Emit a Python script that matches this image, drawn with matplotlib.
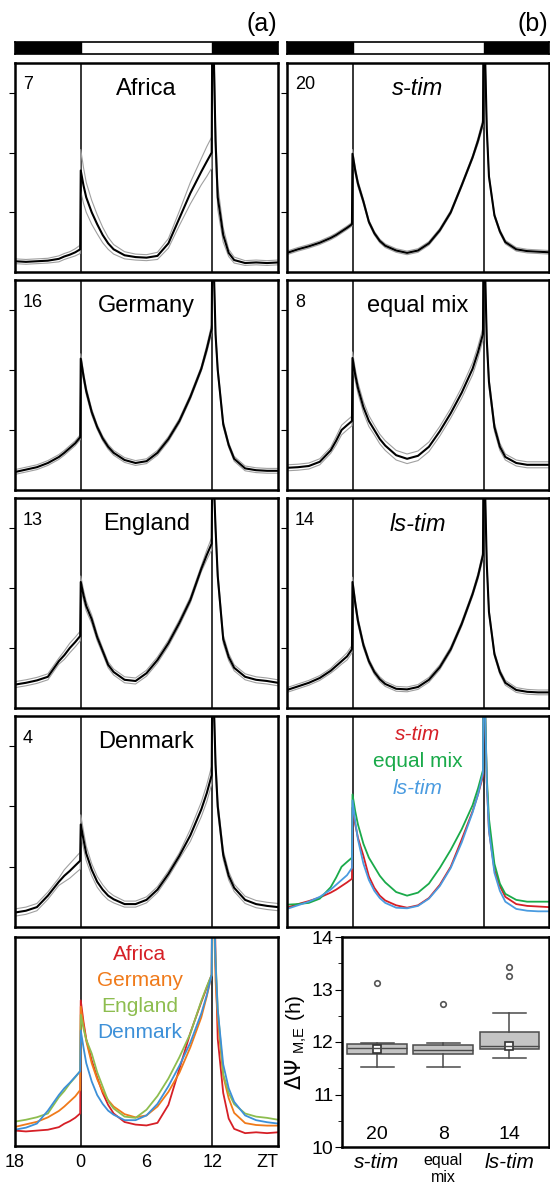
import numpy as np
import matplotlib
matplotlib.use('Agg')
import matplotlib.pyplot as plt

plt.rcParams['font.family'] = ['Liberation Sans', 'DejaVu Sans']

# time grid (h, ZT; -6..0 = ZT18..24)
t = [-6, -5, -4, -3, -2, -1.5, -1, -0.5, -0.05, 0, 0.25, 0.5, 1, 1.5, 2, 2.5, 3,
     4, 5, 6, 7, 8, 9, 10, 11, 11.5, 11.95, 12, 12.1, 12.3, 12.5, 13, 13.5, 14,
     15, 16, 17, 18]

# populations (a)
pop_names = ['Africa', 'Germany', 'England', 'Denmark']
pop_n = [7, 16, 13, 4]
africa = [0.18, 0.17, 0.18, 0.19, 0.22, 0.26, 0.29, 0.33, 0.38,
          1.70, 1.45, 1.25, 1.00, 0.80, 0.62, 0.48, 0.38,
          0.28, 0.25, 0.24, 0.27, 0.48, 0.90, 1.32, 1.68, 1.85, 2.00,
          4.0, 4.0, 2.2, 1.25, 0.62, 0.32, 0.20, 0.15, 0.16, 0.15, 0.16]
africa_sem = [0.04, 0.04, 0.04, 0.04, 0.05, 0.05, 0.05, 0.06, 0.07,
              0.35, 0.30, 0.25, 0.20, 0.16, 0.13, 0.10, 0.08,
              0.06, 0.05, 0.05, 0.06, 0.08, 0.12, 0.18, 0.22, 0.25, 0.26,
              0.3, 0.3, 0.25, 0.2, 0.12, 0.06, 0.05, 0.04, 0.04, 0.04, 0.04]
germany = [0.30, 0.34, 0.38, 0.45, 0.55, 0.62, 0.70, 0.78, 0.88,
           2.19, 1.90, 1.65, 1.30, 1.05, 0.86, 0.72, 0.62,
           0.50, 0.45, 0.48, 0.62, 0.85, 1.15, 1.55, 2.02, 2.35, 2.69,
           4.0, 4.0, 2.6, 2.0, 1.10, 0.75, 0.52, 0.36, 0.33, 0.32, 0.32]
germany_sem = [0.04] * 9 + [0.08, 0.07, 0.06, 0.05, 0.04, 0.04, 0.04, 0.04] + \
              [0.04] * 8 + [0.06, 0.07] + [0.08, 0.08, 0.07, 0.06, 0.05, 0.04, 0.04] + [0.04] * 4
england = [0.39, 0.42, 0.46, 0.52, 0.78, 0.88, 1.00, 1.10, 1.20,
           2.10, 1.88, 1.70, 1.48, 1.18, 0.95, 0.72, 0.60,
           0.47, 0.45, 0.58, 0.80, 1.08, 1.42, 1.80, 2.32, 2.55, 2.74,
           4.0, 4.0, 3.0, 2.2, 1.15, 0.85, 0.67, 0.52, 0.47, 0.45, 0.42]
england_sem = [0.05] * 5 + [0.07, 0.08, 0.08, 0.08] + [0.1, 0.09, 0.08, 0.07, 0.06, 0.05, 0.05, 0.05] + \
              [0.05] * 8 + [0.08, 0.1] + [0.1, 0.1, 0.1, 0.08, 0.07, 0.06, 0.05] + [0.05] * 4
denmark = [0.24, 0.27, 0.33, 0.52, 0.75, 0.85, 0.93, 1.02, 1.10,
           1.70, 1.45, 1.22, 0.95, 0.75, 0.62, 0.52, 0.46,
           0.38, 0.38, 0.45, 0.62, 0.88, 1.18, 1.52, 1.95, 2.22, 2.52,
           4.0, 4.0, 2.7, 2.0, 1.2, 0.85, 0.65, 0.45, 0.38, 0.35, 0.33]
denmark_sem = [0.06] * 5 + [0.1, 0.12, 0.13, 0.14] + [0.16, 0.14, 0.12, 0.1, 0.09, 0.08, 0.07, 0.06] + \
              [0.05] * 6 + [0.1, 0.12, 0.14, 0.15] + [0.15, 0.15, 0.12, 0.1, 0.08, 0.07, 0.06] + [0.06] * 4

# genotypes (b)
geno_names = ['s-tim', 'equal mix', 'ls-tim']
geno_n = [20, 8, 14]
s_tim = [0.32, 0.38, 0.43, 0.49, 0.57, 0.62, 0.68, 0.74, 0.80,
         1.98, 1.70, 1.48, 1.18, 0.84, 0.65, 0.52, 0.44,
         0.36, 0.32, 0.36, 0.48, 0.70, 1.00, 1.45, 1.92, 2.20, 2.50,
         4.0, 4.0, 2.4, 1.6, 0.95, 0.68, 0.50, 0.38, 0.35, 0.34, 0.33]
s_tim_sem = [0.03] * 9 + [0.07, 0.06, 0.05, 0.04, 0.03, 0.03, 0.03, 0.03] + \
            [0.03] * 8 + [0.05, 0.06] + [0.06, 0.06, 0.05, 0.04, 0.03, 0.03, 0.03] + [0.03] * 4
equal_mix = [0.37, 0.38, 0.40, 0.47, 0.66, 0.82, 1.00, 1.08, 1.15,
             2.20, 1.92, 1.70, 1.38, 1.15, 1.00, 0.85, 0.74,
             0.58, 0.52, 0.57, 0.72, 0.98, 1.28, 1.62, 2.02, 2.30, 2.60,
             4.0, 4.0, 2.5, 1.8, 1.05, 0.72, 0.55, 0.45, 0.42, 0.42, 0.42]
equal_mix_sem = [0.05] * 5 + [0.07, 0.08, 0.08, 0.08] + [0.1, 0.1, 0.09, 0.09, 0.09, 0.08, 0.08, 0.08] + \
                [0.08] * 6 + [0.09, 0.1, 0.1, 0.1] + [0.1, 0.1, 0.1, 0.08, 0.07, 0.06, 0.05] + [0.05] * 4
ls_tim = [0.30, 0.36, 0.42, 0.50, 0.62, 0.70, 0.78, 0.86, 0.98,
          2.10, 1.75, 1.45, 1.05, 0.78, 0.60, 0.48, 0.40,
          0.32, 0.31, 0.35, 0.47, 0.68, 0.98, 1.40, 1.90, 2.20, 2.55,
          4.0, 4.0, 2.4, 1.6, 0.90, 0.60, 0.42, 0.30, 0.27, 0.26, 0.26]
ls_tim_sem = [0.04] * 5 + [0.05, 0.05, 0.06, 0.06] + [0.08, 0.07, 0.06, 0.05, 0.04, 0.04, 0.04, 0.04] + \
             [0.04] * 8 + [0.05, 0.06] + [0.06, 0.06, 0.05, 0.05, 0.04, 0.04, 0.04] + [0.04] * 4

pop_means = [africa, germany, england, denmark]
pop_sems = [africa_sem, germany_sem, england_sem, denmark_sem]
pop_colors = ['#d61f26', '#f07a1a', '#8dbd4f', '#3d90d8']
geno_means = [s_tim, equal_mix, ls_tim]
geno_sems = [s_tim_sem, equal_mix_sem, ls_tim_sem]
geno_colors = ['#d61f26', '#1aaa4a', '#4a9be0']

# boxplot of delta Psi M,E
box_labels = ['s-tim', 'equal\nmix', 'ls-tim']
box_q1 = [11.77, 11.77, 11.87]
box_med = [11.88, 11.85, 11.93]
box_q3 = [11.97, 11.94, 12.19]
box_lo = [11.52, 11.52, 11.69]
box_hi = [11.99, 11.98, 12.55]
box_mean = [11.87, np.nan, 11.92]
box_fliers = [[13.12], [12.72], [13.43, 13.26]]

t = np.array(t)
W, H = 550, 1187
fig = plt.figure(figsize=(W / 100, H / 100), dpi=100)


def px_axes(l, top, r, b):
    return fig.add_axes([l / W, 1 - b / H, (r - l) / W, (b - top) / H])


rows = [(63, 272), (280, 490), (498, 708), (716, 927), (937, 1146)]
cols = [(15, 278), (287, 549)]


def frame(ax, lw=1.8):
    for s in ax.spines.values():
        s.set_linewidth(lw)


def trace_axes(ax, ymax=3.5, ticks=True):
    ax.set_xlim(-6, 18)
    ax.set_ylim(0, ymax)
    ax.axvline(0, color='k', lw=1.1)
    ax.axvline(12, color='k', lw=1.1)
    ax.set_xticks([])
    if ticks:
        ax.set_yticks([1, 2, 3])
        ax.set_yticklabels([])
        ax.tick_params(axis='y', length=4, width=0.8, direction='out')
    else:
        ax.set_yticks([])
    frame(ax)


# light/dark bars
for l, r in cols:
    bx = px_axes(l, 42, r, 54)
    bx.set_xlim(-6, 18)
    bx.set_ylim(0, 1)
    bx.axvspan(-6, 0, color='k')
    bx.axvspan(12, 18, color='k')
    bx.set_xticks([])
    bx.set_yticks([])
    frame(bx, 1.2)

fig.text(277 / W, 1 - 24 / H, '(a)', ha='right', va='center', fontsize=18)
fig.text(548 / W, 1 - 24 / H, '(b)', ha='right', va='center', fontsize=18)

# individual panels
panels = [(0, i, pop_means[i], pop_sems[i], pop_n[i], pop_names[i], 'normal') for i in range(4)]
panels += [(1, i, geno_means[i], geno_sems[i], geno_n[i], geno_names[i],
            'normal' if geno_names[i] == 'equal mix' else 'italic') for i in range(3)]
for c, r, m, s, n, name, style in panels:
    ax = px_axes(cols[c][0], rows[r][0], cols[c][1], rows[r][1])
    trace_axes(ax)
    m = np.array(m)
    s = np.array(s)
    ax.plot(t, m + s, color='#a0a0a0', lw=0.8)
    ax.plot(t, m - s, color='#a0a0a0', lw=0.8)
    ax.plot(t, m, color='k', lw=1.5)
    ax.text(0.03, 0.895, str(n), transform=ax.transAxes, fontsize=13, va='center', ha='left')
    ax.text(0.5, 0.876, name, transform=ax.transAxes, fontsize=17, va='center', ha='center',
            fontstyle=style)

# population overlay (normalised to evening peak)
ax = px_axes(cols[0][0], rows[4][0], cols[0][1], rows[4][1])
trace_axes(ax, ymax=1.22, ticks=False)
i_peak = list(t).index(11.95)
for m, col in zip(pop_means, pop_colors):
    m = np.array(m)
    ax.plot(t, m / m[i_peak], color=col, lw=1.3)
for k, (name, col) in enumerate(zip(pop_names, pop_colors)):
    ax.text(0.475, 1 - (18 + 26 * k) / 209, name, color=col, transform=ax.transAxes,
            fontsize=15, ha='center', va='center')
ax.set_xticks([-6, 0, 6, 12, 18])
ax.set_xticklabels(['18', '0', '6', '12', 'ZT'], fontsize=13)
ax.tick_params(axis='x', length=0, pad=6)
ax.get_xticklabels()[-1].set_ha('right')

# genotype overlay
ax = px_axes(cols[1][0], rows[3][0], cols[1][1], rows[3][1])
trace_axes(ax, ticks=False)
for m, col in zip(geno_means, geno_colors):
    ax.plot(t, m, color=col, lw=1.3)
for k, (name, col) in enumerate(zip(geno_names, geno_colors)):
    ax.text(0.5, 1 - (19 + 26.5 * k) / 211, name, color=col, transform=ax.transAxes,
            fontsize=15, ha='center', va='center',
            fontstyle='normal' if name == 'equal mix' else 'italic')

# boxplot
ax = px_axes(342, 937, 549, 1147)
stats = []
for i in range(3):
    stats.append(dict(med=box_med[i], q1=box_q1[i], q3=box_q3[i], whislo=box_lo[i],
                      whishi=box_hi[i], fliers=box_fliers[i]))
gray = '#4a4a4a'
ax.bxp(stats, positions=[1, 2, 3], widths=0.9, capwidths=0.5, patch_artist=True,
       boxprops=dict(facecolor='#c4c4c4', edgecolor=gray, lw=1.1),
       medianprops=dict(color=gray, lw=1), whiskerprops=dict(color=gray, lw=1.1),
       capprops=dict(color=gray, lw=1.1),
       flierprops=dict(marker='o', mfc='white', mec='#555555', ms=4, mew=1.2))
ax.plot([1, 2, 3], box_mean, ls='none', marker='s', mfc='white', mec='#333333', ms=5.5, mew=1.2)
for i, n in enumerate(geno_n):
    ax.text(i + 1, 10.24, str(n), ha='center', va='center', fontsize=14)
ax.set_xlim(0.47, 3.6)
ax.set_ylim(10, 14)
ax.set_yticks([10, 11, 12, 13, 14])
ax.set_yticks([10.5, 11.5, 12.5, 13.5], minor=True)
ax.tick_params(axis='y', which='major', length=5, labelsize=14, pad=1)
ax.tick_params(axis='y', which='minor', length=3)
ax.set_xticks([1, 2, 3])
ax.set_xticklabels(box_labels)
ax.tick_params(axis='x', length=0, pad=4)
for lab in ax.get_xticklabels():
    if 'mix' in lab.get_text():
        lab.set_fontsize(11.5)
    else:
        lab.set_fontsize(15)
        lab.set_fontstyle('italic')
ax.set_ylabel(r'$\Delta\Psi$ $_{\mathregular{M{,}E}}$ (h)', fontsize=15, labelpad=2)
frame(ax)

fig.savefig('out.png', dpi=100)
